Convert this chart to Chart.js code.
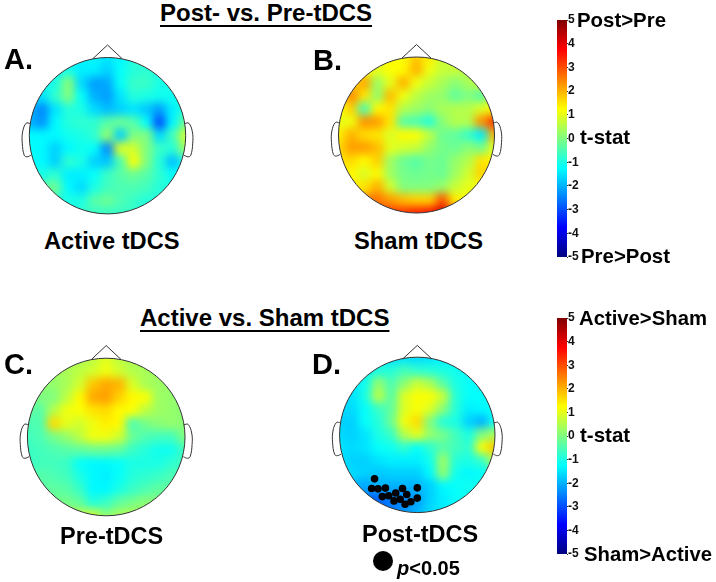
<!DOCTYPE html>
<html>
<head>
<meta charset="utf-8">
<title>tDCS topographies</title>
<script src="https://cdn.jsdelivr.net/npm/chart.js@4"></script>
<style>
  html, body { margin: 0; padding: 0; background: #fff; }
  #page { position: relative; width: 716px; height: 582px; overflow: hidden; font-family: "Liberation Sans", Arial, sans-serif; font-weight: bold; color: #000; }
  #page canvas { position: absolute; }
  .label { position: absolute; white-space: nowrap; line-height: 1; }
  .bigdot { position: absolute; border-radius: 50%; background: #000; }
</style>
</head>
<body>
<div id="page"></div>
<script>
const N = null; // cell outside the head

// t-stat, 13 rows front to back, 13 columns left to right
const activeTdcs = [
  [N, N, N, N, N, -1.3, -1.5, -1.3, N, N, N, N, N],
  [N, N, -1.1, -1.0, -1.4, -1.4, -1.7, -1.2, -0.9, -0.8, -1.0, N, N],
  [N, -1.1, -1.0, 0.1, -1.6, -2.2, -2.1, -1.2, -0.7, -0.7, -1.0, -1.1, N],
  [-1.7, -1.5, -0.8, 0.0, -1.2, -2.0, -2.2, -1.5, -0.9, -1.0, -1.1, -1.1, -1.1],
  [-2.0, -2.4, -1.5, -0.9, -1.0, -1.6, -1.9, -1.7, -1.5, -1.8, -2.2, -1.4, -0.9],
  [-2.0, -2.3, -1.3, -0.9, -0.8, -0.8, -0.4, -0.2, -0.4, -1.2, -3.0, -1.3, -0.2],
  [-1.3, -1.3, -1.3, -1.1, -1.0, -0.8, 0.2, -1.7, 0.0, 0.0, -1.6, -0.6, 0.8],
  [-1.2, -1.3, -1.7, -1.3, -1.1, -1.2, -2.4, 0.9, 0.8, 0.0, -0.7, -0.9, 0.3],
  [-1.2, -1.3, -1.7, -0.8, -1.0, -1.7, -1.8, -0.5, 1.2, 0.0, -0.9, -1.9, -1.0],
  [N, -1.0, -0.8, -1.4, -1.4, -1.2, -0.7, -0.4, -0.2, -0.4, -0.8, -1.2, N],
  [N, N, -0.2, -1.3, -1.6, -1.0, -0.6, -0.5, -0.5, -0.6, -0.9, N, N],
  [N, N, N, -1.0, -1.0, -0.4, -0.2, -0.5, -0.7, -0.9, N, N, N],
  [N, N, N, N, N, -0.7, -0.7, -0.7, N, N, N, N, N],
];
const shamTdcs = [
  [N, N, N, N, N, 1.2, 1.8, 1.4, N, N, N, N, N],
  [N, N, 1.3, 1.0, 1.2, 1.3, 2.0, 1.1, 0.7, 0.7, 0.6, N, N],
  [N, 1.6, 2.1, 0.3, 1.0, 2.0, 1.1, 0.7, 0.4, 0.1, 0.4, 0.8, N],
  [1.3, 2.4, 1.5, 0.2, 1.9, 1.1, 0.6, 0.3, 0.2, -0.3, 0.0, -0.4, 1.0],
  [1.2, 1.7, -0.5, 1.3, 1.5, 0.5, 0.3, 0.1, 0.4, 0.5, 0.5, 0.9, 1.3],
  [1.0, 1.1, 2.3, 2.2, 1.5, -0.4, -0.5, -0.9, 0.1, 0.5, 0.5, 2.3, 3.2],
  [1.4, 2.0, 1.6, 1.5, 0.9, 1.3, 1.2, 0.6, -0.2, -0.3, -0.7, -1.4, 2.0],
  [1.6, 2.2, 2.2, 1.9, 1.0, 0.8, 0.7, 0.2, -0.1, -0.2, 0.1, -0.1, 1.0],
  [1.5, 1.6, 1.3, 1.7, 0.3, -0.2, -0.4, -0.1, -0.2, 0.2, 0.5, 1.5, 1.3],
  [N, 1.3, 0.9, 1.3, 0.3, -0.1, -0.2, -0.1, -0.2, 0.3, 0.8, 1.7, N],
  [N, N, 1.5, 2.0, 0.8, 0.0, 0.0, 0.0, 0.2, 0.7, 1.0, 1.2, N],
  [N, N, N, 2.6, 2.2, 1.9, 1.7, 1.7, 2.9, 1.4, 1.2, N, N],
  [N, N, N, N, 3.2, 3.2, 3.4, 3.5, 4.2, 2.7, N, N, N],
];
const preTdcs = [
  [N, N, N, N, 0.4, 0.6, 1.0, 0.6, 0.4, N, N, N, N],
  [N, N, 0.3, 0.4, 0.6, 0.8, 1.1, 0.8, 0.5, 0.4, 0.3, N, N],
  [N, 0.1, 0.2, 0.4, 0.8, 1.8, 2.1, 2.0, 0.9, 0.4, 0.3, 0.2, N],
  [-0.1, 0.0, 0.0, 0.6, 1.3, 2.1, 2.2, 1.7, 1.3, 1.2, 0.3, 0.2, 0.1],
  [-0.3, -0.4, 0.5, 1.1, 1.2, 1.5, 1.6, 1.3, 1.2, 0.6, 0.3, 0.2, 0.1],
  [-0.5, -0.5, 1.6, 1.0, 0.8, 1.1, 1.4, 1.3, -0.5, -0.1, 0.1, 0.2, 0.1],
  [-0.6, -0.5, -0.1, 0.2, 0.6, 1.1, 1.1, 0.8, -0.2, -0.5, -0.6, -0.6, 0.0],
  [-0.7, -0.6, -0.5, -0.4, -0.3, -0.2, -0.2, -0.3, -0.7, -0.9, -1.1, -1.1, -0.6],
  [-0.7, -0.6, -0.6, -0.7, -1.2, -1.3, -1.3, -1.2, -1.0, -1.0, -1.0, -0.8, -0.6],
  [N, -0.4, -0.5, -0.6, -1.0, -1.3, -1.4, -1.2, -0.9, -0.8, -0.7, -0.5, N],
  [N, N, -0.3, -0.4, -0.7, -1.3, -1.3, -1.0, -0.7, -0.5, -0.3, N, N],
  [N, N, N, -0.1, -0.3, -0.9, -0.7, -0.3, -0.1, 0.1, N, N, N],
  [N, N, N, N, 0.6, 0.8, 0.1, 0.4, 0.5, N, N, N, N],
];
const postTdcs = [
  [N, N, N, N, -1.6, -1.5, -1.6, -1.5, -1.4, N, N, N, N],
  [N, N, -1.2, -1.0, -0.9, -0.6, -0.8, -0.9, -1.0, -1.1, -1.2, N, N],
  [N, -1.5, -1.1, 0.2, -0.5, 0.1, 0.7, 0.4, -0.4, -1.0, -1.2, -1.3, N],
  [-1.6, -1.5, -1.0, 0.6, -0.4, 0.9, 1.2, 1.2, 0.7, -0.9, -1.2, -1.2, -1.3],
  [-1.6, -1.6, -1.2, -0.7, -0.3, 0.9, 1.2, 0.9, 0.1, -0.9, -1.4, -1.3, -1.2],
  [-1.7, -1.7, -1.2, -0.9, -0.2, 1.1, 1.6, 0.0, -0.9, -1.0, -1.7, -2.0, -1.1],
  [-1.6, -1.7, -1.5, -1.0, -0.7, 0.5, 1.0, 0.2, -0.1, -0.6, -1.0, 0.0, 0.4],
  [-1.5, -1.6, -1.5, -1.2, -1.1, -0.8, -1.2, -0.8, -0.4, -0.6, -0.8, 1.2, 1.8],
  [-1.5, -1.7, -1.7, -1.5, -1.4, -1.4, -1.4, -1.1, 0.3, -0.9, -1.0, -0.7, 0.6],
  [N, -1.6, -1.7, -1.8, -1.7, -1.7, -1.7, -1.3, 0.2, -1.1, -1.3, -1.2, N],
  [N, N, -2.1, -2.0, -2.0, -2.0, -2.0, -1.7, -1.3, -1.2, -1.1, N, N],
  [N, N, N, -2.8, -2.5, -2.4, -2.2, -1.7, -1.4, -1.2, N, N, N],
  [N, N, N, N, -2.6, -2.3, -2.0, -1.6, -1.4, N, N, N, N],
];

// significant electrodes in panel D, head units
const sigX = [-0.55, -0.587, -0.505, -0.41, -0.19, 0, -0.277, -0.136, -0.45, -0.368, 0, -0.3, -0.22, -0.083, -0.157];
const sigY = [-0.57, -0.695, -0.7, -0.69, -0.695, -0.687, -0.753, -0.773, -0.8, -0.79, -0.82, -0.856, -0.835, -0.868, -0.9];

// head outline pieces, head units
const noseX = [-0.187, 0, 0.187];
const noseY = [0.985, 1.16, 0.985];
const earX = [-0.985, -1.04, -1.085, -1.09, -1.065, -1.03, -0.98];
const earY = [0.155, 0.16, 0.05, -0.095, -0.25, -0.27, -0.25];

const colorbarTicks = [-5, -4, -3, -2, -1, 0, 1, 2, 3, 4, 5];
const colorbarRange = [-5, 5];

const page = document.getElementById("page");

// matlab jet, t-stat from -5 to 5
const jetStops = [
  [0, 0, 0, 128],
  [0.125, 0, 0, 255],
  [0.375, 0, 255, 255],
  [0.625, 255, 255, 0],
  [0.875, 255, 0, 0],
  [1, 128, 0, 0],
];
function jet(t) {
  const v = Math.min(1, Math.max(0, (t + 5) / 10));
  let i = 0;
  while (i < jetStops.length - 2 && v > jetStops[i + 1][0]) i++;
  const a = jetStops[i];
  const b = jetStops[i + 1];
  const f = (v - a[0]) / (b[0] - a[0]);
  const c = [1, 2, 3].map((k) => Math.round(a[k] + (b[k] - a[k]) * f));
  return `rgb(${c[0]},${c[1]},${c[2]})`;
}

function toCells(matrix) {
  const cells = [];
  matrix.forEach((row, i) => {
    row.forEach((t, k) => {
      if (t !== null) cells.push({ x: -1 + k / 6, y: 1 - i / 6, t: t });
    });
  });
  return cells;
}

function toPoints(xs, ys) {
  return xs.map((x, i) => ({ x: x, y: ys[i] }));
}

// blurs the square cells into a smooth map and cuts it to the head circle
const headPlugin = {
  id: "head",
  afterDatasetDraw(chart, args) {
    if (chart.data.datasets[args.index].label !== "heat") return;
    const ctx = chart.ctx;
    const copy = document.createElement("canvas");
    copy.width = chart.canvas.width;
    copy.height = chart.canvas.height;
    copy.getContext("2d").drawImage(chart.canvas, 0, 0);
    ctx.save();
    ctx.setTransform(1, 0, 0, 1, 0, 0);
    ctx.clearRect(0, 0, copy.width, copy.height);
    headPath(chart);
    ctx.clip();
    ctx.filter = "blur(4.3px)";
    ctx.drawImage(copy, 0, 0);
    ctx.restore();
  },
  afterDraw(chart) {
    const ctx = chart.ctx;
    ctx.save();
    headPath(chart);
    ctx.strokeStyle = "#333";
    ctx.lineWidth = 1;
    ctx.stroke();
    ctx.restore();
  },
};

function headPath(chart) {
  const { x, y } = chart.scales;
  const cx = x.getPixelForValue(0);
  const cy = y.getPixelForValue(0);
  chart.ctx.beginPath();
  chart.ctx.arc(cx, cy, x.getPixelForValue(1) - cx, 0, Math.PI * 2);
}

function cellRadius(scale) {
  return (ctx) => {
    const x = ctx.chart.scales.x;
    const step = x.getPixelForValue(1 / 6) - x.getPixelForValue(0);
    return step * scale;
  };
}

function outlineSet(xs, ys, tension) {
  return {
    label: "outline",
    data: toPoints(xs, ys),
    showLine: true,
    borderColor: "#333",
    borderWidth: 1,
    pointRadius: 0,
    tension: tension,
    order: 1,
  };
}

function drawHead(matrix, cx, cy, r, dotsX, dotsY) {
  const w = 224;
  const above = 96;
  const h = above + 90;
  const left = Math.floor(cx) - w / 2;
  const top = Math.floor(cy) - above;
  const fx = cx - Math.floor(cx);
  const fy = cy - Math.floor(cy);
  const canvas = document.createElement("canvas");
  canvas.width = w;
  canvas.height = h;
  canvas.style.left = left + "px";
  canvas.style.top = top + "px";
  page.appendChild(canvas);

  const cells = toCells(matrix);
  const datasets = [
    { label: "under", data: cells, pointStyle: "rect", pointRadius: cellRadius(1.6), pointBorderWidth: 0,
      pointBackgroundColor: (c) => jet(c.raw.t), order: 5 },
    { label: "heat", data: cells, pointStyle: "rect", pointRadius: cellRadius(0.74), pointBorderWidth: 0,
      pointBackgroundColor: (c) => jet(c.raw.t), order: 4 },
    outlineSet(noseX, noseY, 0),
    outlineSet(earX, earY, 0.4),
    outlineSet(earX.map((v) => -v), earY, 0.4),
  ];
  if (dotsX) {
    datasets.push({ label: "p<0.05", data: toPoints(dotsX, dotsY), pointRadius: 3.8, pointBorderWidth: 0,
      pointBackgroundColor: "#000", order: 0 });
  }

  new Chart(canvas, {
    type: "scatter",
    data: { datasets: datasets },
    options: {
      responsive: false,
      animation: false,
      events: [],
      layout: { padding: 0 },
      plugins: { legend: { display: false }, tooltip: { enabled: false } },
      scales: {
        x: { type: "linear", display: false, min: -(w / 2 + fx) / r, max: (w / 2 - fx) / r },
        y: { type: "linear", display: false, min: -(h - above - fy) / r, max: (above + fy) / r },
      },
    },
    plugins: [headPlugin],
  });
}

function drawColorbar(left, top, height) {
  const pad = 10;
  const barWidth = 10;
  const canvas = document.createElement("canvas");
  canvas.width = 34;
  canvas.height = height + pad * 2;
  canvas.style.left = left + "px";
  canvas.style.top = top - pad + "px";
  page.appendChild(canvas);

  new Chart(canvas, {
    type: "bar",
    data: {
      labels: ["t"],
      datasets: [
        {
          data: [colorbarRange],
          barPercentage: 1,
          categoryPercentage: 1,
          borderWidth: 0,
          backgroundColor: (c) => {
            const y = c.chart.scales.y;
            if (!c.chart.chartArea || !y) return "#000";
            const grad = c.chart.ctx.createLinearGradient(0, y.getPixelForValue(-5), 0, y.getPixelForValue(5));
            jetStops.forEach((s) => grad.addColorStop(s[0], jet(s[0] * 10 - 5)));
            return grad;
          },
        },
      ],
    },
    options: {
      responsive: false,
      animation: false,
      events: [],
      layout: { padding: { top: pad, bottom: pad, left: 0, right: 0 } },
      plugins: { legend: { display: false }, tooltip: { enabled: false } },
      scales: {
        x: { display: false },
        y: {
          position: "right",
          min: colorbarRange[0],
          max: colorbarRange[1],
          afterFit: (axis) => { axis.width = 34 - barWidth; },
          afterBuildTicks: (axis) => { axis.ticks = colorbarTicks.map((v) => ({ value: v })); },
          border: { display: false },
          grid: { drawOnChartArea: false, tickLength: 1, tickColor: "#333", tickWidth: 1 },
          ticks: {
            padding: 0,
            color: "#111",
            autoSkip: false,
            font: { family: "'Liberation Sans', Arial", weight: "bold", size: 12 },
          },
        },
      },
    },
  });
}

// text placed by its baseline
function addLabel(text, x, baseline, size, extra) {
  const el = document.createElement("div");
  el.className = "label";
  el.innerHTML = text;
  el.style.left = x + "px";
  el.style.top = baseline - 0.8465 * size + "px";
  el.style.fontSize = size + "px";
  if (extra) Object.assign(el.style, extra);
  page.appendChild(el);
}

drawHead(activeTdcs, 107.5, 135.7, 78.2);
drawHead(shamTdcs, 416.5, 135, 78);
drawHead(preTdcs, 106.2, 437, 78.8);
drawHead(postTdcs, 417.3, 435, 80.6, sigX, sigY);

drawColorbar(557, 20, 237);
drawColorbar(557, 318, 236);

const underline = { textDecoration: "underline", textUnderlineOffset: "4px", textDecorationThickness: "2px" };
addLabel("Post- vs. Pre-tDCS", 160, 21, 24, underline);
addLabel("Active vs. Sham tDCS", 140, 326, 24, underline);

addLabel("A.", 4, 70, 29);
addLabel("B.", 313, 70.5, 29);
addLabel("C.", 4, 375, 29);
addLabel("D.", 312, 375, 29);

addLabel("Active tDCS", 44, 250, 23.7);
addLabel("Sham tDCS", 354, 250, 23.7);
addLabel("Pre-tDCS", 60, 545, 23.5);
addLabel("Post-tDCS", 362, 543, 23.5);

const bigDot = document.createElement("div");
bigDot.className = "bigdot";
Object.assign(bigDot.style, { left: "373px", top: "551px", width: "20px", height: "20px" });
page.appendChild(bigDot);
addLabel("<i>p</i>&lt;0.05", 397, 575, 20);

addLabel("Post&gt;Pre", 577, 27, 20.4);
addLabel("t-stat", 580, 144, 20.5);
addLabel("Pre&gt;Post", 581, 263, 20.4);
addLabel("Active&gt;Sham", 579, 325, 20.3);
addLabel("t-stat", 580, 442, 20.5);
addLabel("Sham&gt;Active", 584, 561, 20.3);
</script>
</body>
</html>
